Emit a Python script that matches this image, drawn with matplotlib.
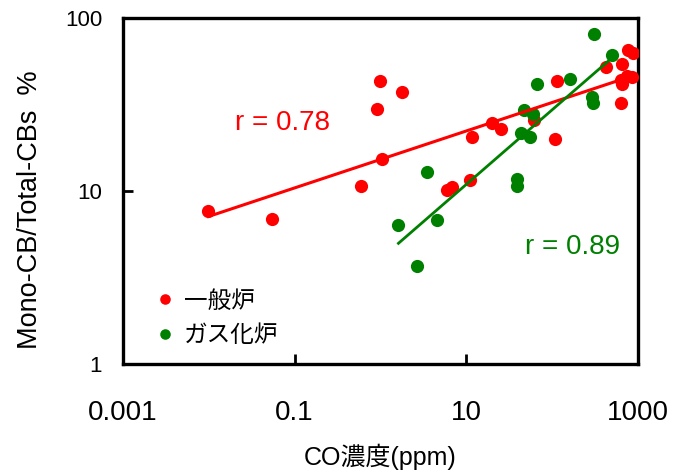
import numpy as np
import matplotlib
matplotlib.use('Agg')
import matplotlib.pyplot as plt

# Fonts: Arial-like for latin text, Noto CJK for the Japanese characters
plt.rcParams['font.family'] = ['Liberation Sans', 'Noto Sans CJK JP']

# Data
# 一般炉 (general furnaces)
red_x = [0.0099, 0.054, 0.59, 0.99, 0.92, 1.04, 1.77, 5.9, 6.9, 11.1, 11.6,
         19.9, 25.6, 61.5, 109, 115, 423, 646, 771, 874, 632, 743, 851, 650, 632]
red_y = [7.75, 6.94, 10.8, 43.5, 29.9, 15.4, 37.5, 10.2, 10.6, 11.6, 20.7,
         25.0, 22.9, 25.8, 20.1, 43.5, 52.4, 54.8, 65.4, 62.8, 44.0, 46.4, 45.7, 41.7, 32.4]
# ガス化炉 (gasification furnaces)
green_x = [1.62, 2.68, 4.59, 3.49, 39.4, 39.4, 43.1, 54.8, 46.7, 60, 67.4,
           164, 292, 298, 306, 501]
green_y = [6.41, 3.69, 6.79, 12.95, 11.8, 10.8, 21.65, 20.5, 29.5, 28.2, 42.0,
           44.5, 35.2, 32.4, 81.6, 61.3]

# Power trendlines y = a * x^b as shown on the chart
red_fit = (15.3, 0.1645)
green_fit = (4.07, 0.4307)
red_r = 'r = 0.78'
green_r = 'r = 0.89'

labels = ['一般炉', 'ガス化炉']
colors = ['#ff0000', '#008000']

x_ticks = [0.001, 0.1, 10, 1000]
x_tick_labels = ['0.001', '0.1', '10', '1000']
y_ticks = [1, 10, 100]
y_tick_labels = ['1', '10', '100']


def trend(xs, fit):
    '''
    (list, tuple) -> (np.array, np.array)
    Return the trendline from the smallest to the largest x value.
    '''
    xt = np.array([min(xs), max(xs)])
    return xt, fit[0] * xt ** fit[1]


fig = plt.figure(figsize=(6.8, 4.72), dpi=100)
ax = fig.add_axes([0.181, 0.228, 0.757, 0.733])

# Scatter points
ax.plot(red_x, red_y, 'o', color=colors[0], ms=9.5, mec='none', label=labels[0], zorder=3)
ax.plot(green_x, green_y, 'o', color=colors[1], ms=9.5, mec='none', label=labels[1], zorder=3)

# Trendlines
xt, yt = trend(red_x, red_fit)
ax.plot(xt, yt, color=colors[0], lw=2.2, zorder=4)
xt, yt = trend(green_x, green_fit)
ax.plot(xt, yt, color=colors[1], lw=2.0, zorder=4)

# Correlation labels
ax.text(0.072, 24.8, red_r, color=colors[0], fontsize=20, ha='center', va='center')
ax.text(172, 4.75, green_r, color=colors[1], fontsize=20, ha='center', va='center')

# Axes setup
ax.set_xscale('log')
ax.set_yscale('log')
ax.set_xlim(0.001, 1000)
ax.set_ylim(1, 100)
ax.set_xticks(x_ticks)
ax.set_xticklabels(x_tick_labels)
ax.set_yticks(y_ticks)
ax.set_yticklabels(y_tick_labels)
ax.minorticks_off()
ax.tick_params(axis='x', direction='in', length=7, width=2, labelsize=20, pad=26)
ax.tick_params(axis='y', direction='in', length=7, width=2, labelsize=16, pad=15)
for s in ax.spines.values():
    s.set_linewidth(2.4)

ax.set_xlabel('CO濃度(ppm)', fontsize=18)
ax.xaxis.set_label_coords(0.5, -0.228)
ax.set_ylabel('Mono-CB/Total-CBs  %', fontsize=19.5)
ax.yaxis.set_label_coords(-0.155, 0.447)

ax.legend(loc='upper left', bbox_to_anchor=(0.012, 0.275), frameon=False, fontsize=17,
          handletextpad=0.2, labelspacing=0.55, markerscale=0.8, handlelength=1.2)

plt.savefig('out.png', dpi=100)
